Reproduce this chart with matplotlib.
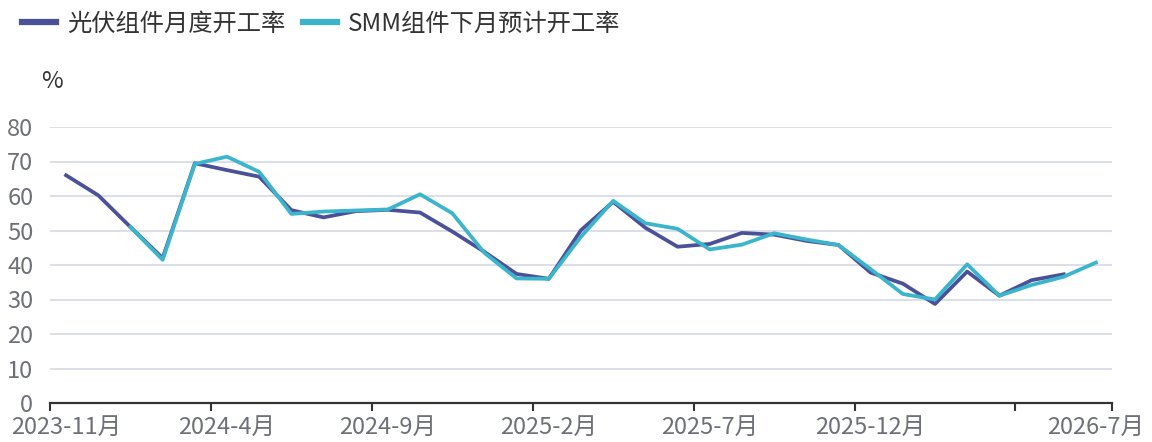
#! /usr/bin/env python3

import numpy as np
import matplotlib
matplotlib.use('Agg')
import matplotlib.pyplot as plt

plt.rcParams['font.family'] = ['Noto Sans CJK SC', 'DejaVu Sans']

# months 2023-11 .. 2026-7
months = ['2023-11', '2023-12', '2024-1', '2024-2', '2024-3', '2024-4', '2024-5',
          '2024-6', '2024-7', '2024-8', '2024-9', '2024-10', '2024-11', '2024-12',
          '2025-1', '2025-2', '2025-3', '2025-4', '2025-5', '2025-6', '2025-7',
          '2025-8', '2025-9', '2025-10', '2025-11', '2025-12', '2026-1', '2026-2',
          '2026-3', '2026-4', '2026-5', '2026-6', '2026-7']

nan = np.nan
actual = [66, 60.2, 51, 42, 69.5, 67.5, 65.6, 55.9, 53.8, 55.6, 56.0, 55.2,
          49.7, 43.8, 37.4, 36.0, 50.1, 58.3, 50.8, 45.3, 46.1, 49.3, 48.8,
          47.0, 45.8, 37.8, 34.6, 28.7, 38.1, 31.1, 35.6, 37.3, nan]
forecast = [nan, nan, 51, 41.5, 69.3, 71.4, 67.0, 54.8, 55.5, 55.8, 56.1, 60.5,
            55.0, 43.5, 36.1, 36.0, 48.2, 58.6, 52.1, 50.5, 44.5, 45.9, 49.2,
            47.4, 45.8, 38.8, 31.6, 30.0, 40.2, 31.1, 34.2, 36.6, 40.7]

label_idx = [0, 5, 10, 15, 20, 25, 32]

fs = 17

fig = plt.figure(figsize=(11.52, 4.42), dpi=100)
ax = fig.add_axes([50 / 1152, 39 / 442, 1062 / 1152, 276 / 442])

x = np.arange(len(months))
l1, = ax.plot(x, actual, color='#4b5199', lw=2.7, solid_joinstyle='round',
              label='光伏组件月度开工率', zorder=3)
l2, = ax.plot(x, forecast, color='#3bb5cc', lw=2.7, solid_joinstyle='round',
              label='SMM组件下月预计开工率', zorder=4)

ax.set_xlim(-0.5, len(months) - 0.5)
ax.set_ylim(0, 80)
ax.set_yticks(range(0, 81, 10))
ax.grid(axis='y', color='#d9dbe7', lw=1.3)
ax.set_axisbelow(True)

# band-boundary ticks, labels centred on categories
ax.set_xticks([-0.5, 4.5, 9.5, 14.5, 19.5, 24.5, 29.5, 32.5])
ax.set_xticklabels([])
ax.tick_params(axis='x', which='major', length=6, width=1.5, color='#333333')
ax.set_xticks(label_idx, minor=True)
ax.set_xticklabels([months[i] + '月' for i in label_idx], minor=True)
ax.tick_params(axis='x', which='minor', length=0, pad=9, labelsize=fs,
               labelcolor='#6e7079')
ax.tick_params(axis='y', length=0, pad=12, labelsize=fs, labelcolor='#6e7079')

for s in ['top', 'right', 'left']:
    ax.spines[s].set_visible(False)
ax.spines['bottom'].set_color('#333333')
ax.spines['bottom'].set_linewidth(1.6)

fig.text(41 / 1152, 1 - 82 / 442, '%', fontsize=fs, color='#333333',
         ha='left', va='center')

leg = fig.legend(handles=[l1, l2], loc='upper left', bbox_to_anchor=(0.0, 1.025),
                 ncol=2, frameon=False, fontsize=17.5, handlelength=1.4,
                 handletextpad=0.45, columnspacing=0.75)
for h in leg.legend_handles:
    h.set_linewidth(4.5)
for t in leg.get_texts():
    t.set_color('#333333')

fig.savefig('out.png', dpi=100)
